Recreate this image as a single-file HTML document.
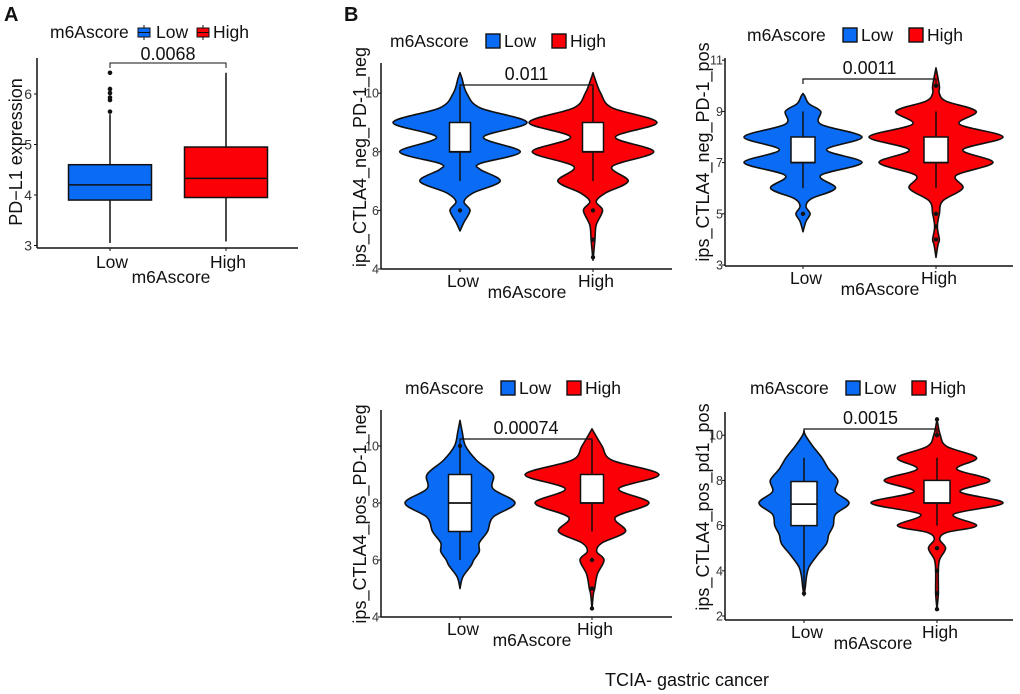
<!DOCTYPE html>
<html><head><meta charset="utf-8"><style>
html,body{margin:0;padding:0;background:#fff;}
svg{display:block;font-family:"Liberation Sans",Arial,sans-serif;}
</style></head><body>
<svg id="fig" width="1020" height="694" viewBox="0 0 1020 694" xmlns="http://www.w3.org/2000/svg"></svg>
<script>
// ===== Panel A data (boxplot) =====
const aGroups = ["Low","High"];
const aLowStats = [3.05, 3.9, 4.2, 4.6, 5.6];
const aHighStats = [3.08, 3.95, 4.33, 4.95, 6.42];
const aLowOut = [5.65, 5.88, 5.93, 6.02, 6.1, 6.42];
const aHighOut = [];
const aTicks = [3, 4, 5, 6];
const aPval = "0.0068";

// ===== Panel B1 data =====
const b1LowV = [5.3,5.6,6,6.3,6.6,7,7.4,7.6,8,8.5,9,9.5,10,10.5,10.7];
const b1LowD = [0,0.06,0.15,0.06,0.2,0.6,0.3,0.3,0.9,0.35,1.0,0.3,0.1,0.03,0];
const b1HighV = [4.3,5,5.5,6,6.3,6.6,7,7.5,8,8.5,9,9.5,10,10.5,10.7];
const b1HighD = [0,0.03,0.05,0.15,0.05,0.2,0.55,0.3,0.95,0.35,1.0,0.3,0.12,0.03,0];
const b1LowStats = [7, 8, 8, 9, 10.2];
const b1HighStats = [7, 8, 8, 9, 10.2];
const b1LowOut = [6];
const b1HighOut = [6, 5, 4.4];
const b1Ticks = [4, 6, 8, 10];
const b1Pval = "0.011";

// ===== Panel B2 data =====
const b2LowV = [4.3,4.7,5,5.3,5.6,6,6.5,7,7.5,8,8.5,9,9.3,9.6,9.7];
const b2LowD = [0,0.05,0.12,0.05,0.15,0.55,0.3,1.0,0.4,1.0,0.3,0.3,0.1,0.03,0];
const b2HighV = [3.3,3.8,4,4.5,5,5.5,6,6.5,7,7.5,8,8.5,9,9.4,9.7,10,10.7];
const b2HighD = [0,0.03,0.05,0.02,0.05,0.1,0.4,0.3,0.85,0.4,1.0,0.35,0.6,0.15,0.05,0.05,0];
const b2LowStats = [6, 7, 7, 8, 9];
const b2HighStats = [6, 7, 7, 8, 9];
const b2LowOut = [5];
const b2HighOut = [10, 5, 4.5, 4];
const b2Ticks = [3, 5, 7, 9, 11];
const b2Pval = "0.0011";

// ===== Panel B3 data =====
const b3LowV = [5,5.4,5.8,6,6.3,6.6,7,7.5,8,8.5,9,9.5,10,10.5,10.9];
const b3LowD = [0,0.05,0.2,0.25,0.35,0.35,0.5,0.6,1.0,0.6,0.6,0.3,0.1,0.04,0];
const b3HighV = [4.3,4.8,5,5.5,6,6.3,6.6,7,7.5,8,8.5,9,9.5,10,10.6];
const b3HighD = [0,0.02,0.04,0.08,0.18,0.07,0.15,0.5,0.35,0.85,0.4,1.0,0.3,0.15,0];
const b3LowStats = [6, 7, 8, 9, 10];
const b3HighStats = [7, 8, 8, 9, 10.2];
const b3LowOut = [10];
const b3HighOut = [6, 5, 4.3];
const b3Ticks = [4, 6, 8, 10];
const b3Pval = "0.00074";

// ===== Panel B4 data =====
const b4LowV = [2.9,3.3,3.8,4.2,4.7,5.2,5.6,6,6.5,7,7.5,8,8.5,9,9.5,10,10.2];
const b4LowD = [0,0.03,0.06,0.12,0.3,0.5,0.55,0.65,0.7,1.0,0.7,0.75,0.55,0.4,0.2,0.03,0];
const b4HighV = [2.3,3,4,4.5,5,5.4,5.7,6,6.5,7,7.5,8,8.5,9,9.5,10,10.7];
const b4HighD = [0,0.02,0.02,0.04,0.13,0.04,0.15,0.6,0.25,1.0,0.35,0.8,0.3,0.6,0.15,0.05,0];
const b4LowStats = [3, 6, 6.95, 7.95, 9];
const b4HighStats = [6, 7, 7, 8, 9];
const b4LowOut = [3];
const b4HighOut = [10.7, 10, 5, 4, 3, 2.3];
const b4Ticks = [2, 4, 6, 8, 10];
const b4Pval = "0.0015";

const NS = "http://www.w3.org/2000/svg";
const fig = document.getElementById("fig");
const BLUE = "#0a6cf5", RED = "#fb0007";
function el(tag, attrs, parent){
  const e = document.createElementNS(NS, tag);
  for (const k in attrs) e.setAttribute(k, attrs[k]);
  (parent||fig).appendChild(e);
  return e;
}
function txt(x,y,s,size,anchor,parent,extra){
  const t = el("text", Object.assign({x:x,y:y,"font-size":size,"text-anchor":anchor||"start",fill:"#111"}, extra||{}), parent);
  t.textContent = s;
  return t;
}
function smoothPath(pts){
  let d = "M"+pts[0][0].toFixed(2)+","+pts[0][1].toFixed(2);
  for (let i=0;i<pts.length-1;i++){
    const p0=pts[Math.max(0,i-1)], p1=pts[i], p2=pts[i+1], p3=pts[Math.min(pts.length-1,i+2)];
    const c1=[p1[0]+(p2[0]-p0[0])/6, p1[1]+(p2[1]-p0[1])/6];
    const c2=[p2[0]-(p3[0]-p1[0])/6, p2[1]-(p3[1]-p1[1])/6];
    d += " C"+c1[0].toFixed(2)+","+c1[1].toFixed(2)+" "+c2[0].toFixed(2)+","+c2[1].toFixed(2)+" "+p2[0].toFixed(2)+","+p2[1].toFixed(2);
  }
  return d;
}

// ===== Panel labels =====
const lblA = txt(4, 21, "A", 20, "start", fig, {"font-weight":"bold"});


const lblB = txt(344, 21, "B", 20, "start", fig, {"font-weight":"bold"});



// ===== Panel A =====
(function(){
  const g = el("g", {});
  
  
  const y = v => 195 - (v-4)*50.5;
  const cx = [110, 226];
  const hw = 41.5;
  const lg = el("g", {}, g);
  
  
  txt(50, 38, "m6Ascore", 17.5, "start", lg);
  [[138, BLUE, "Low", 156],[197, RED, "High", 213]].forEach(function(L){
    const e = el("g", {}, lg);
    
    
    el("line",{x1:L[0]+6,x2:L[0]+6,y1:25,y2:40,stroke:"#111","stroke-width":1},e);
    el("rect",{x:L[0],y:28,width:12,height:9,fill:L[1],stroke:"#111","stroke-width":1},e);
    el("line",{x1:L[0],x2:L[0]+12,y1:32.5,y2:32.5,stroke:"#111","stroke-width":1},e);
    txt(L[3], 38, L[2], 17.5, "start", e);
  });
  const ax = el("g", {}, g);
  
  
  el("line",{x1:37,x2:37,y1:58,y2:248,stroke:"#111","stroke-width":1.5},ax);
  aTicks.forEach(function(t){
    el("line",{x1:34,x2:37,y1:y(t),y2:y(t),stroke:"#111","stroke-width":1},ax);
    txt(32, y(t)+5, String(t), 14, "end", ax, {fill:"#333"});
  });
  const xa = el("g", {}, g);
  
  
  el("line",{x1:37,x2:298,y1:248,y2:248,stroke:"#111","stroke-width":1.5},xa);
  aGroups.forEach(function(n,i){
    el("line",{x1:cx[i],x2:cx[i],y1:248,y2:251,stroke:"#111","stroke-width":1},xa);
    txt(cx[i]+2, 268, n, 17.5, "middle", xa);
  });
  const xt = txt(171, 283, "m6Ascore", 17.5, "middle", g);
  
  
  const yt = txt(0,0,"PD\u2212L1 expression",18,"middle",g,{transform:"translate(22,152) rotate(-90)"});
  
  
  [[aLowStats,aLowOut,BLUE,"low"],[aHighStats,aHighOut,RED,"high"]].forEach(function(B,i){
    const s=B[0], c=cx[i];
    const bg = el("g", {}, g);
    
    
    el("line",{x1:c,x2:c,y1:y(s[0]),y2:y(s[4]),stroke:"#111","stroke-width":1.5},bg);
    el("rect",{x:c-hw,y:y(s[3]),width:2*hw,height:y(s[1])-y(s[3]),fill:B[2],stroke:"#111","stroke-width":1.5},bg);
    el("line",{x1:c-hw,x2:c+hw,y1:y(s[2]),y2:y(s[2]),stroke:"#111","stroke-width":1.5},bg);
    B[1].forEach(function(o){ el("circle",{cx:c,cy:y(o),r:2.3,fill:"#111"},bg); });
  });
  const pg = el("g", {}, g);
  
  
  el("path",{d:"M"+cx[0]+",68 V63 H"+cx[1]+" V68",fill:"none",stroke:"#111","stroke-width":1},pg);
  txt(168, 60, aPval, 18, "middle", pg);
})();

// ===== Violin panels =====
function violinPanel(P){
  const g = el("g", {});
  
  
  const y = v => P.y0 - (v - P.v0)*P.ppu;
  const lg = el("g", {}, g);
  
  
  txt(P.legX, P.legY+6, "m6Ascore", 17.5, "start", lg);
  [[P.legX+96, BLUE, "Low"],[P.legX+162, RED, "High"]].forEach(function(L){
    const e = el("g", {}, lg);
    
    
    el("rect",{x:L[0],y:P.legY-7,width:14,height:14,fill:L[1],stroke:"#111","stroke-width":1.4},e);
    txt(L[0]+18, P.legY+6, L[2], 17.5, "start", e);
  });
  const ax = el("g", {}, g);
  
  
  el("line",{x1:P.ax,x2:P.ax,y1:P.top,y2:P.xAxY,stroke:"#111","stroke-width":1.5},ax);
  P.ticks.forEach(function(t){
    el("line",{x1:P.ax-3,x2:P.ax,y1:y(t),y2:y(t),stroke:"#111","stroke-width":1},ax);
    txt(P.ax-2, y(t)+4.5, String(t), 12.5, "end", ax, {fill:"#333"});
  });
  const xa = el("g", {}, g);
  
  
  el("line",{x1:P.ax,x2:P.xEnd,y1:P.xAxY,y2:P.xAxY,stroke:"#111","stroke-width":1.5},xa);
  ["Low","High"].forEach(function(n,i){
    el("line",{x1:P.cx[i],x2:P.cx[i],y1:P.xAxY,y2:P.xAxY+3,stroke:"#111","stroke-width":1},xa);
    txt(P.cx[i]+3, P.xAxY+18, n, 17.5, "middle", xa);
  });
  const xt = txt(P.xtX, P.xAxY+29, "m6Ascore", 17.5, "middle", g);
  
  
  const yt = txt(0,0,P.ytitle,18,"middle",g,{transform:"translate("+P.ytX+","+P.ytY+") rotate(-90)"});
  
  
  P.series.forEach(function(S,i){
    const c = P.cx[i];
    const vg = el("g", {}, g);
    
    
    const right=[], left=[];
    for (let k=S.V.length-1;k>=0;k--) right.push([c + S.D[k]*S.hw, y(S.V[k])]);
    for (let k=0;k<S.V.length;k++) left.push([c - S.D[k]*S.hw, y(S.V[k])]);
    const d = smoothPath(right) + " " + smoothPath(left).replace(/^M/,"L") + " Z";
    el("path",{d:d,fill:S.color,stroke:"#111","stroke-width":1.6,"stroke-linejoin":"round"},vg);
    const s = S.stats, bw = P.bw;
    el("line",{x1:c,x2:c,y1:y(s[0]),y2:y(s[4]),stroke:"#111","stroke-width":1.5},vg);
    el("rect",{x:c-bw/2,y:y(s[3]),width:bw,height:y(s[1])-y(s[3]),fill:"#fff",stroke:"#111","stroke-width":1.5},vg);
    el("line",{x1:c-bw/2,x2:c+bw/2,y1:y(s[2]),y2:y(s[2]),stroke:"#111","stroke-width":1.8},vg);
    S.out.forEach(function(o){ el("circle",{cx:c,cy:y(o),r:2.2,fill:"#111"},vg); });
  });
  const pg = el("g", {}, g);
  
  
  el("path",{d:"M"+P.cx[0]+","+(P.brY+5)+" V"+P.brY+" H"+P.cx[1]+" V"+(P.brY+5),fill:"none",stroke:"#111","stroke-width":1.2},pg);
  txt((P.cx[0]+P.cx[1])/2, P.brY-5, P.pval, 18, "middle", pg);
}

violinPanel({name:"panel-b1-violin", y0:269, v0:4, ppu:29.3, ticks:b1Ticks, ax:381, top:63, xAxY:269, xEnd:672,
  cx:[460,593], bw:21, legX:390, legY:41, brY:85, pval:b1Pval, xtX:527, ytitle:"ips_CTLA4_neg_PD-1_neg", ytX:366, ytY:157,
  series:[{key:"low",V:b1LowV,D:b1LowD,hw:67,color:BLUE,stats:b1LowStats,out:b1LowOut},
          {key:"high",V:b1HighV,D:b1HighD,hw:64,color:RED,stats:b1HighStats,out:b1HighOut}]});

violinPanel({name:"panel-b2-violin", y0:265, v0:3, ppu:25.6, ticks:b2Ticks, ax:725, top:58, xAxY:266, xEnd:1013,
  cx:[803,936], bw:24, legX:747, legY:35, brY:79, pval:b2Pval, xtX:880, ytitle:"ips_CTLA4_neg_PD-1_pos", ytX:709, ytY:152,
  series:[{key:"low",V:b2LowV,D:b2LowD,hw:59,color:BLUE,stats:b2LowStats,out:b2LowOut},
          {key:"high",V:b2HighV,D:b2HighD,hw:67,color:RED,stats:b2HighStats,out:b2HighOut}]});

violinPanel({name:"panel-b3-violin", y0:617, v0:4, ppu:28.5, ticks:b3Ticks, ax:381, top:410, xAxY:617, xEnd:672,
  cx:[460,592], bw:23, legX:405, legY:388, brY:439, pval:b3Pval, xtX:532, ytitle:"ips_CTLA4_pos_PD-1_neg", ytX:366, ytY:514,
  series:[{key:"low",V:b3LowV,D:b3LowD,hw:55,color:BLUE,stats:b3LowStats,out:b3LowOut},
          {key:"high",V:b3HighV,D:b3HighD,hw:67,color:RED,stats:b3HighStats,out:b3HighOut}]});

violinPanel({name:"panel-b4-violin", y0:616, v0:2, ppu:22.6, ticks:b4Ticks, ax:725, top:412, xAxY:620, xEnd:1013,
  cx:[804,937], bw:26, legX:750, legY:388, brY:429, pval:b4Pval, xtX:873, ytitle:"ips_CTLA4_pos_pd1_pos", ytX:709, ytY:507,
  series:[{key:"low",V:b4LowV,D:b4LowD,hw:45,color:BLUE,stats:b4LowStats,out:b4LowOut},
          {key:"high",V:b4HighV,D:b4HighD,hw:66,color:RED,stats:b4HighStats,out:b4HighOut}]});

const cap = txt(605, 686, "TCIA- gastric cancer", 18, "start", fig);


</script>
</body></html>
